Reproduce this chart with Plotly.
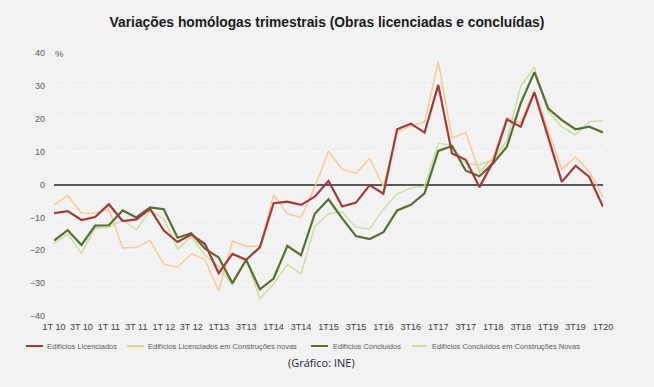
import plotly.graph_objects as go

# ---- data -----------------------------------------------------------------
years = ["10", "11", "12", "13", "14", "15", "16", "17", "18", "19"]
quarters = [f"{q}T{y}" for y in years for q in (1, 2, 3, 4)] + ["1T20"]

tick_labels = ["1T 10", "3T 10", "1T 11", "3T 11", "1T 12", "3T 12", "1T13", "3T13",
               "1T14", "3T14", "1T15", "3T15", "1T16", "3T16", "1T17", "3T17",
               "1T18", "3T18", "1T19", "3T19", "1T20"]

licenciados = [-8.7, -8.1, -10.8, -9.9, -6.0, -11.1, -10.6, -7.4, -14.0, -17.5,
               -15.2, -18.1, -27.0, -21.1, -22.9, -19.1, -5.7, -5.2, -6.2, -3.7,
               1.1, -6.7, -5.5, -0.2, -2.8, 16.8, 18.5, 15.8, 30.3, 9.4,
               7.5, -0.8, 7.0, 19.8, 17.6, 28.0, 14.5, 0.8, 5.7, 2.3, -6.8]

licenciados_novas = [-6.3, -3.4, -8.7, -8.7, -7.5, -19.3, -19.1, -17.1, -24.2, -25.2,
                     -21.1, -22.8, -32.3, -17.2, -18.8, -18.8, -3.2, -8.9, -10.1, -0.8,
                     10.2, 4.6, 3.4, 7.9, -0.6, 16.0, 17.8, 19.0, 37.3, 14.2,
                     15.8, 3.7, 8.2, 20.4, 18.8, 28.6, 16.6, 4.6, 8.4, 3.9, -3.7]

concluidos = [-17.1, -13.9, -18.4, -12.5, -12.4, -7.9, -10.0, -7.0, -7.5, -16.2,
              -14.8, -19.5, -22.2, -30.0, -22.9, -31.9, -28.6, -18.7, -21.5, -8.9,
              -4.5, -10.3, -15.7, -16.6, -14.5, -7.9, -6.2, -2.7, 10.2, 11.7,
              4.2, 2.5, 6.5, 11.5, 24.7, 34.2, 23.2, 19.6, 16.8, 17.6, 15.8]

concluidos_novas = [-17.9, -15.1, -20.9, -13.3, -13.0, -10.8, -13.8, -8.0, -10.5, -19.7,
                    -15.9, -21.5, -25.0, -30.6, -22.8, -34.7, -30.3, -24.3, -27.2, -12.8,
                    -8.9, -8.4, -13.0, -13.5, -7.5, -2.9, -1.1, -0.5, 12.5, 12.0,
                    6.3, 6.0, 7.5, 13.5, 29.8, 35.7, 22.2, 17.6, 15.1, 19.1, 19.4]

series_names = ["Edifícios Licenciados",
                "Edifícios Licenciados em Construções novas",
                "Edifícios Concluídos",
                "Edifícios Concluídos em Construções Novas"]
series_values = [licenciados, licenciados_novas, concluidos, concluidos_novas]

# ---- styles ---------------------------------------------------------------
colors = ["#a23a3c", "#fdc48f", "#55702f", "#c6df9c"]
widths = [2.2, 1.4, 2.2, 1.4]
draw_order = [3, 1, 2, 0]

BG = "#f2f2f2"
W, H = 654, 387
ML, MR, MT, MB = 54, 51, 53, 71

fig = go.Figure()
for k in draw_order:
    fig.add_trace(go.Scatter(
        x=quarters, y=series_values[k], mode="lines", name=series_names[k],
        line=dict(color=colors[k], width=widths[k]), showlegend=False,
    ))

# ---- manual legend (matching the small Excel-style legend) ----------------
plot_w = W - ML - MR
plot_h = H - MT - MB
def px_x(px):
    return (px - ML) / plot_w
def px_y(py):
    return (H - MB - py) / plot_h

legend_y = 346
legend_items = [(26, 43, 45), (127, 144, 146), (311, 328, 331), (412, 427, 430)]
for k, (x0, x1, xt) in enumerate(legend_items):
    fig.add_shape(type="line", xref="paper", yref="paper",
                  x0=px_x(x0), x1=px_x(x1), y0=px_y(legend_y), y1=px_y(legend_y),
                  line=dict(color=colors[k], width=2))
    fig.add_annotation(xref="paper", yref="paper", x=px_x(xt), y=px_y(legend_y),
                       text=series_names[k], showarrow=False,
                       xanchor="left", yanchor="middle",
                       font=dict(family="Liberation Sans, Arial", size=7.5, color="#595959"))

fig.add_annotation(xref="paper", yref="paper", x=px_x(321), y=px_y(362),
                   text="(Gráfico: INE)", showarrow=False,
                   xanchor="center", yanchor="middle",
                   font=dict(family="Open Sans, DejaVu Sans", size=11, color="#1c1c3c"))

fig.add_annotation(xref="paper", yref="paper", x=px_x(53), y=1.0,
                   text="%", showarrow=False, xanchor="left", yanchor="middle",
                   font=dict(family="Liberation Sans, Arial", size=9.5, color="#595959"))

fig.update_layout(
    width=W, height=H,
    margin=dict(l=ML, r=MR, t=MT, b=MB),
    paper_bgcolor=BG, plot_bgcolor=BG,
    title=dict(text="<b>Variações homólogas trimestrais (Obras licenciadas e concluídas)</b>",
               x=0.5, xref="container", xanchor="center",
               y=1 - 22 / H, yref="container", yanchor="middle",
               font=dict(family="Liberation Sans, Arial", size=13.8, color="#1a1a1a")),
    showlegend=False,
)

fig.update_xaxes(
    type="category", range=[0, len(quarters) - 1],
    tickmode="array", tickvals=quarters[::2], ticktext=tick_labels,
    showgrid=False, zeroline=False, showline=False, ticks="",
    tickfont=dict(family="Liberation Sans, Arial", size=9, color="#404040"),
    ticklabelstandoff=4,
)
fig.update_yaxes(
    range=[-40, 40], tickmode="array", tickvals=list(range(-40, 41, 10)),
    showgrid=True, gridcolor="#ffffff", gridwidth=1, griddash="dot",
    zeroline=True, zerolinecolor="#595959", zerolinewidth=1.5,
    showline=False, ticks="",
    tickfont=dict(family="Liberation Sans, Arial", size=9, color="#595959"),
    ticklabelstandoff=8,
)

fig.write_html("out.html",
               config={"displayModeBar": False},
               post_script="document.body.style.margin='0';document.body.style.background='#f2f2f2';")
